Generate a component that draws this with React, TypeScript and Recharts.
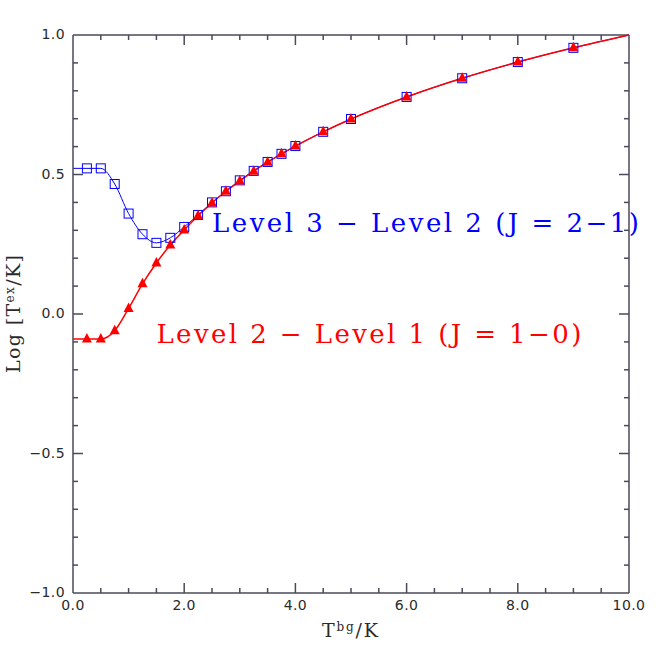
import { LineChart, Line, XAxis, YAxis, ReferenceDot, ReferenceLine, Label } from 'recharts'

// background temperature (K)
const tbg = [0, 0.25, 0.5, 0.75, 1.0, 1.25, 1.5, 1.75, 2.0, 2.25, 2.5, 2.75, 3.0, 3.25, 3.5, 3.75, 4.0, 4.5, 5, 6, 7, 8, 9, 10]
// Log Tex, level 3 - level 2 (J = 2-1)
const level32 = [0.522, 0.522, 0.522, 0.466, 0.36, 0.286, 0.255, 0.273, 0.312, 0.355, 0.4, 0.44, 0.479, 0.513, 0.545, 0.574, 0.602, 0.653, 0.699, 0.778, 0.845, 0.903, 0.954, 1.0]
// Log Tex, level 2 - level 1 (J = 1-0)
const level21 = [-0.09, -0.09, -0.09, -0.06, 0.02, 0.108, 0.183, 0.247, 0.301, 0.352, 0.398, 0.44, 0.477, 0.512, 0.544, 0.574, 0.602, 0.653, 0.699, 0.778, 0.845, 0.903, 0.954, 1.0]

const xTicks = [0, 0.5, 1, 1.5, 2, 2.5, 3, 3.5, 4, 4.5, 5, 5.5, 6, 6.5, 7, 7.5, 8, 8.5, 9, 9.5, 10]
const xLabels = ['0.0', '2.0', '4.0', '6.0', '8.0', '10.0']
const yTicks = [-1, -0.9, -0.8, -0.7, -0.6, -0.5, -0.4, -0.3, -0.2, -0.1, 0, 0.1, 0.2, 0.3, 0.4, 0.5, 0.6, 0.7, 0.8, 0.9, 1]
const yLabels = ['\u22121.0', '\u22120.5', '0.0', '0.5', '1.0']

const data = tbg.map((t, i) => ({ t, a: level32[i], b: level21[i] }))

const INK = '#2a2a2a'
const TICK = '#4a4a5a'
const BLUE = '#0000ff'
const RED = '#ff0000'
const tickFont = { fontFamily: 'DejaVu Sans', fontSize: 14, fill: INK, letterSpacing: 0.4 }
const TW = 1.5

const isMajorX = (v: number) => Math.abs(v / 2 - Math.round(v / 2)) < 1e-6
const isMajorY = (v: number) => Math.abs(v * 2 - Math.round(v * 2)) < 1e-6
const xLabel = (v: number) => xLabels[Math.round(v / 2)]
const yLabel = (v: number) => yLabels[Math.round((v + 1) * 2)]

// inward tick lengths for top / right edges, in axis units (~10px major, ~5px minor)
const tickLenY = (v: number) => (isMajorX(v) ? 0.036 : 0.018)
const tickLenX = (v: number) => (isMajorY(v) ? 0.18 : 0.09)

const BottomTick = (p: any) => {
  const v = p.payload.value
  const major = isMajorX(v)
  const edge = v < 1e-6 || v > 10 - 1e-6
  return (
    <g>
      {!edge && <path d={`M${p.x},${p.y}v${major ? -10 : -5}`} stroke={TICK} strokeWidth={TW} fill="none" />}
      {major && (
        <text x={p.x} y={p.y + 13} textAnchor="middle" dominantBaseline="middle" {...tickFont}>
          {xLabel(v)}
        </text>
      )}
    </g>
  )
}

const LeftTick = (p: any) => {
  const v = p.payload.value
  const major = isMajorY(v)
  const edge = Math.abs(v) > 1 - 1e-6
  return (
    <g>
      {!edge && <path d={`M${p.x},${p.y}h${major ? 10 : 5}`} stroke={TICK} strokeWidth={TW} fill="none" />}
      {major && (
        <text x={p.x - 8} y={p.y} textAnchor="end" dominantBaseline="middle" {...tickFont}>
          {yLabel(v)}
        </text>
      )}
    </g>
  )
}

const SquareDot = (p: any) => {
  const { cx, cy, index } = p
  if (index === 0 || index === tbg.length - 1) return <g key={`s${index}`} />
  return <rect key={`s${index}`} x={cx - 4.5} y={cy - 4.5} width={9} height={9} fill="none" stroke={BLUE} strokeWidth={1} />
}

const TriangleDot = (p: any) => {
  const { cx, cy, index } = p
  if (index === 0 || index === tbg.length - 1) return <g key={`t${index}`} />
  return <polygon key={`t${index}`} points={`${cx},${cy - 6} ${cx + 5},${cy + 3.5} ${cx - 5},${cy + 3.5}`} fill={RED} />
}

const annotation = (text: string, color: string, width: number) => (props: any) => {
  const vb = props.viewBox
  const x = vb.x + vb.width / 2
  const y = vb.y + vb.height / 2
  return (
    <text x={x} y={y} fill={color} fontFamily="DejaVu Serif" fontSize={26} textLength={width} lengthAdjust="spacing">
      {text}
    </text>
  )
}

const XTitle = (props: any) => {
  const vb = props.viewBox
  return (
    <text x={vb.x + vb.width / 2 - 1} y={637} textAnchor="middle" fill={INK} fontFamily="DejaVu Serif" fontSize={19} textLength={56}>
      T<tspan fontSize={12} dy={-6}>bg</tspan>
      <tspan dy={6}>/K</tspan>
    </text>
  )
}

const YTitle = (props: any) => {
  const vb = props.viewBox
  const cy = vb.y + vb.height / 2
  return (
    <text x={20} y={cy} transform={`rotate(-90 20 ${cy})`} textAnchor="middle" fill={INK} fontFamily="DejaVu Serif" fontSize={19} textLength={118}>
      Log [T<tspan fontSize={12} dy={-6}>ex</tspan>
      <tspan dy={6}>/K]</tspan>
    </text>
  )
}

const inner = (v: number, lo: number, hi: number) => v > lo + 1e-6 && v < hi - 1e-6

export default function App() {
  return (
    <div style={{ position: 'absolute', left: 0, top: 0, width: 664, height: 664, background: '#fff' }}>
      <LineChart width={664} height={664} data={data} margin={{ top: 35, right: 35, bottom: 11, left: 0 }}>
        <XAxis
          xAxisId="b"
          dataKey="t"
          type="number"
          domain={[0, 10]}
          ticks={xTicks}
          interval={0}
          height={60}
          tickSize={0}
          tickMargin={0}
          tickLine={false}
          tick={BottomTick}
          axisLine={{ stroke: TICK, strokeWidth: TW }}
        >
          <Label content={XTitle} />
        </XAxis>
        <YAxis
          yAxisId="l"
          type="number"
          domain={[-1, 1]}
          ticks={yTicks}
          interval={0}
          width={73}
          tickSize={0}
          tickMargin={0}
          tickLine={false}
          tick={LeftTick}
          axisLine={{ stroke: TICK, strokeWidth: TW }}
        >
          <Label content={YTitle} />
        </YAxis>

        {/* frame: top and right edges */}
        <ReferenceLine xAxisId="b" yAxisId="l" y={1} stroke={TICK} strokeWidth={TW} ifOverflow="visible" />
        <ReferenceLine xAxisId="b" yAxisId="l" x={10} stroke={TICK} strokeWidth={TW} ifOverflow="visible" />

        {/* inward ticks on top and right edges */}
        {xTicks.filter((v) => inner(v, 0, 10)).map((v) => (
          <ReferenceLine key={`xt${v}`} xAxisId="b" yAxisId="l" stroke={TICK} strokeWidth={TW} ifOverflow="visible" segment={[{ x: v, y: 1 }, { x: v, y: 1 - tickLenY(v) }]} />
        ))}
        {yTicks.filter((v) => inner(v, -1, 1)).map((v) => (
          <ReferenceLine key={`yr${v}`} xAxisId="b" yAxisId="l" stroke={TICK} strokeWidth={TW} ifOverflow="visible" segment={[{ x: 10, y: v }, { x: 10 - tickLenX(v), y: v }]} />
        ))}

        <Line
          xAxisId="b"
          yAxisId="l"
          type="monotone"
          dataKey="a"
          stroke={BLUE}
          strokeWidth={1}
          dot={SquareDot}
          activeDot={false}
          isAnimationActive={false}
        />
        <Line
          xAxisId="b"
          yAxisId="l"
          type="monotone"
          dataKey="b"
          stroke={RED}
          strokeWidth={1.5}
          dot={TriangleDot}
          activeDot={false}
          isAnimationActive={false}
        />
        <ReferenceDot xAxisId="b" yAxisId="l" x={2.5} y={0.294} r={1} fill="none" stroke="none" label={annotation('Level 3 \u2212 Level 2 (J = 2\u22121)', BLUE, 427)} />
        <ReferenceDot xAxisId="b" yAxisId="l" x={1.5} y={-0.104} r={1} fill="none" stroke="none" label={annotation('Level 2 \u2212 Level 1 (J = 1\u22120)', RED, 425)} />
      </LineChart>
    </div>
  )
}
